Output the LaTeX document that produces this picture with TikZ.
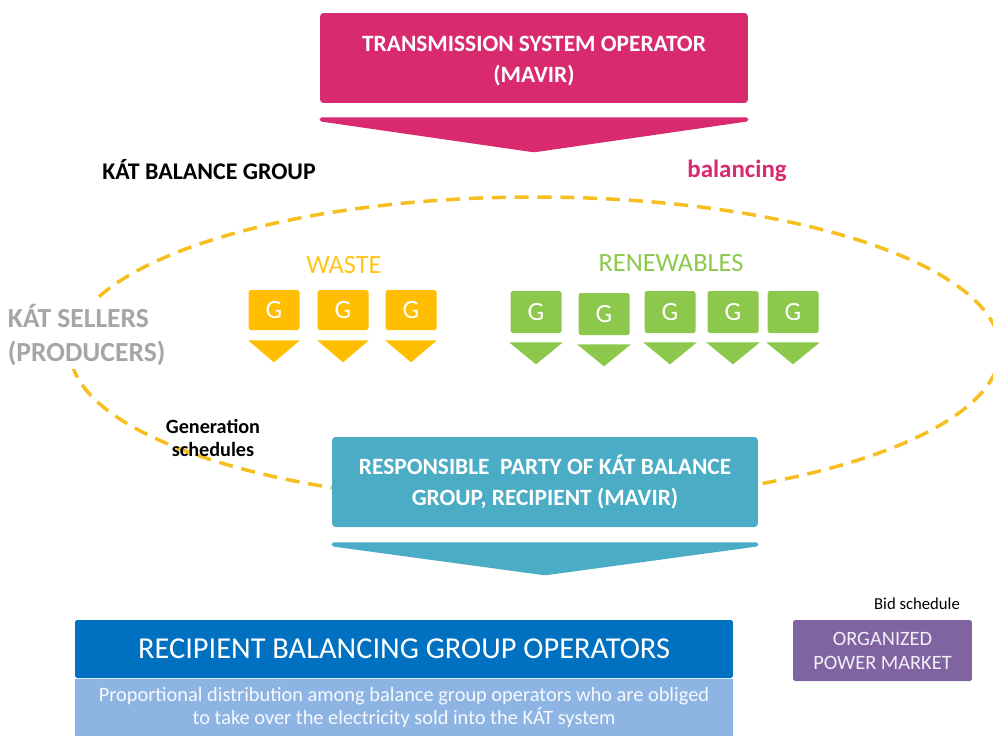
\documentclass[tikz,border=0pt]{standalone}
\usepackage{fontspec}
\setmainfont{Carlito}
\usepackage{tikz}
\usetikzlibrary{positioning,calc}
\definecolor{tsoPink}{RGB}{217,42,111}
\definecolor{katGold}{RGB}{246,190,30}
\definecolor{gGold}{RGB}{255,190,0}
\definecolor{gGreen}{RGB}{140,200,75}
\definecolor{rpTeal}{RGB}{75,172,198}
\definecolor{rbgBlue}{RGB}{0,112,192}
\definecolor{propBlue}{RGB}{141,180,226}
\definecolor{opmPurple}{RGB}{128,100,162}
\definecolor{sellerGray}{RGB}{166,166,166}
\tikzset{
  kBox/.style={rounded corners=2pt, inner sep=0pt, align=center, text=white,
    font=\fontsize{13.3}{17.5}\selectfont\bfseries},
  gBox/.style={rounded corners=1pt, inner sep=0pt, minimum width=1.02cm,
    text=white, font=\fontsize{15}{18}\selectfont},
  %% Labels
  kLabel/.style={font=\fontsize{13.6}{15}\selectfont\bfseries, inner sep=1pt},
  grpLabel/.style={font=\fontsize{15}{18}\selectfont, inner sep=1pt},
  %% Balance group border
  katBorder/.style={draw=katGold, line width=2pt, dash pattern=on 8pt off 5pt},
}

\begin{document}
\begin{tikzpicture}[x=0.02cm, y=-0.02cm]
\useasboundingbox (0,0) rectangle (993,735);

%% KAT balance group border
\draw[katBorder] (535,350) ellipse [x radius=465, y radius=153];

%% Transmission system operator
\node[kBox, fill=tsoPink, minimum width=8.56cm, minimum height=1.8cm] (tso) at (534,58)
  {\rule{0pt}{12pt}TRANSMISSION SYSTEM OPERATOR\\(MAVIR)};
\fill[tsoPink, rounded corners=1pt] ($(tso.south west)+(0,14)$) -- ($(tso.south east)+(0,14)$)
  -- ($(tso.south east)+(0,18)$) -- ($(tso.south)+(0,49)$) -- ($(tso.south west)+(0,18)$) -- cycle;

\node[kLabel] (kbg) at (209,170) {KÁT BALANCE GROUP};
\node[kLabel, font=\fontsize{14.2}{16}\selectfont\bfseries, text=tsoPink] (bal) at (737,171) {balancing};

%% Producers
\node[grpLabel, text=gGold!90!white] (waste) at (344,265) {WASTE};
\node[grpLabel, text=gGreen] (renew) at (671,263) {RENEWABLES};

\foreach \x [count=\i] in {274, 343, 411}{
  \node[gBox, fill=gGold, minimum height=0.8cm] (gw\i) at (\x,310) {G};
  \fill[gGold] ($(gw\i.south west)+(0,10)$) -- ($(gw\i.south east)+(0,10)$)
    -- ($(gw\i.south)+(0,32)$) -- cycle;
}
\foreach \x/\y [count=\i] in {536/312, 604/314, 670/312, 733/312, 793/312}{
  \node[gBox, fill=gGreen, minimum height=0.84cm] (gr\i) at (\x,\y) {G};
  \fill[gGreen] ($(gr\i.south west)+(-1,9)$) -- ($(gr\i.south east)+(1,9)$)
    -- ($(gr\i.south)+(0,31)$) -- cycle;
}

\node[anchor=west, fill=white, align=left, text=sellerGray, inner sep=2pt,
  font=\fontsize{15.7}{19.3}\selectfont\bfseries] (sellers) at (4,335)
  {KÁT SELLERS\\(PRODUCERS)};
\node[align=center, font=\fontsize{11.5}{13}\selectfont\bfseries] (gensched) at (213,438)
  {Generation\\schedules};

%% Responsible party
\node[kBox, fill=rpTeal, minimum width=8.52cm, minimum height=1.8cm] (rp) at (545,482)
  {RESPONSIBLE \ PARTY OF KÁT BALANCE\\GROUP, RECIPIENT (MAVIR)};
\fill[rpTeal, rounded corners=1pt] ($(rp.south west)+(0,15)$) -- ($(rp.south east)+(0,15)$)
  -- ($(rp.south east)+(0,19)$) -- ($(rp.south)+(0,48)$) -- ($(rp.south west)+(0,19)$) -- cycle;

%% Recipient balancing group operators
\node[fill=rbgBlue, rounded corners=1pt, minimum width=13.16cm, minimum height=1.16cm,
  text=white, font=\fontsize{17.3}{19}\selectfont] (rbgo) at (404,649)
  {RECIPIENT BALANCING GROUP OPERATORS};
\node[fill=propBlue, minimum width=13.16cm, minimum height=1.14cm, below=0pt of rbgo,
  align=center, text=white!92!propBlue, font=\fontsize{11.6}{13}\selectfont] (prop)
  {Proportional distribution among balance group operators who are obliged\\to take over the electricity sold into the KÁT system};

%% Power market
\node[fill=opmPurple, rounded corners=1pt, minimum width=3.58cm, minimum height=1.22cm,
  align=center, text=white!90!opmPurple, font=\fontsize{11.6}{13.6}\selectfont] (opm) at (882.5,650.5)
  {ORGANIZED\\POWER MARKET};
\node[font=\fontsize{9.5}{11}\selectfont, inner sep=1pt] (bid) at (917,604) {Bid schedule};

\end{tikzpicture}
\end{document}
